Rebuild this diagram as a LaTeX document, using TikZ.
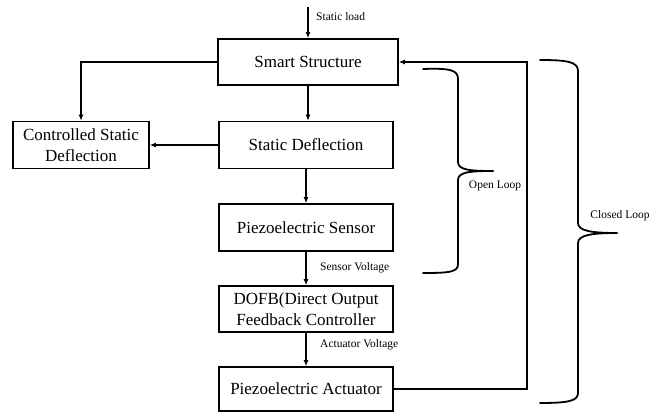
\documentclass[tikz,border=0pt]{standalone}
\usepackage{fontspec}
\setmainfont{Liberation Serif}
\usetikzlibrary{arrows.meta}
\tikzset{
  blk/.style={draw, line width=1.6pt, minimum width=174pt, minimum height=46pt, inner sep=2pt, align=center, font=\fontsize{17}{20.5}\selectfont},
  conn/.style={line width=1.5pt, -{Latex[length=6pt,width=5pt]}},
  brc/.style={line width=1.8pt, line cap=round},
  lbl/.style={font=\fontsize{11.5}{13}\selectfont, inner sep=0pt}
}
\begin{document}
\begin{tikzpicture}[x=1pt,y=-1pt]
\useasboundingbox (0,0) rectangle (660,412);
\node[blk, minimum width=180pt] (ss) at (308,62) {Smart Structure};
\node[blk, minimum height=47pt] (sd) at (306,145) {Static Deflection};
\node[blk, minimum width=136pt, minimum height=47pt] (csd) at (81,145) {Controlled Static\\Deflection};
\node[blk, minimum height=47pt] (ps) at (306,227.5) {Piezoelectric Sensor};
\node[blk] (dofb) at (306,309) {DOFB(Direct Output\\Feedback Controller};
\node[blk, minimum height=44pt] (pa) at (306,389) {Piezoelectric Actuator};
\coordinate (sl) at (308,7);
\coordinate (fb) at (527,0);
\draw[conn] (sl) -- (ss.north);
\node[lbl, anchor=west] (sltxt) at (316,17) {Static load};
\draw[conn] (ss.south) -- (ss.south |- sd.north);
\draw[conn] (ss.west) -| (csd.north);
\draw[conn] (sd.west) -- (csd.east);
\draw[conn] (sd.south) -- (ps.north);
\draw[conn] (ps.south) -- (dofb.north);
\node[lbl, anchor=west] (svtxt) at (320,268) {Sensor Voltage};
\draw[conn] (dofb.south) -- (pa.north);
\node[lbl, anchor=west] (avtxt) at (320,345) {Actuator Voltage};
\draw[conn] (pa.east) -- (pa.east -| fb) -- (ss.east -| fb) -- (ss.east);
% Open loop brace
\draw[brc] (423,69) .. controls (450,68) and (458,70) .. (458,79) -- (458,162)
  .. controls (458,170) and (470,171) .. (493,171);
\draw[brc] (493,171) .. controls (470,171) and (458,172) .. (458,180) -- (458,264)
  .. controls (458,272) and (450,273) .. (423,273);
\node[lbl] (oltxt) at (495,186) {Open Loop};
% Closed loop brace
\draw[brc] (540,60) .. controls (568,60) and (578,62) .. (578,71) -- (578,223)
  .. controls (578,231) and (592,233) .. (617,233);
\draw[brc] (617,233) .. controls (592,233) and (578,235) .. (578,243) -- (578,393)
  .. controls (578,401) and (568,403) .. (540,403);
\node[lbl] (cltxt) at (620,216) {Closed Loop};
\end{tikzpicture}
\end{document}
